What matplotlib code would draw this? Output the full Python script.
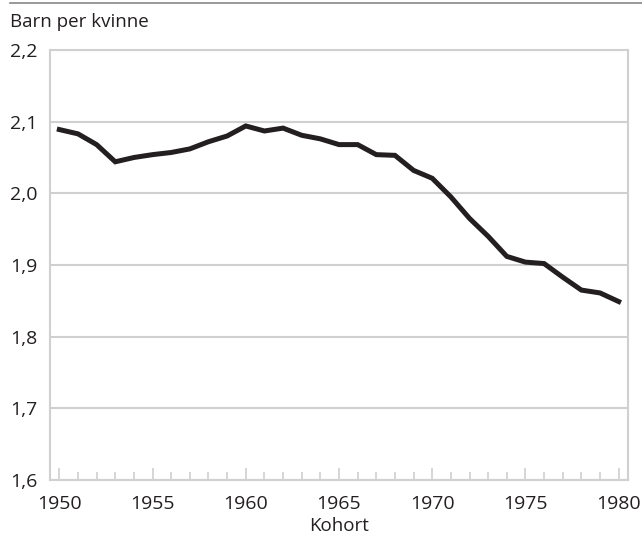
import numpy as np
import matplotlib.pyplot as plt
from matplotlib.ticker import MultipleLocator

# Samlet fruktbarhet per kohort (lest av figuren)
years = list(range(1950, 1981))
children = [2.089, 2.083, 2.068, 2.044, 2.050, 2.054, 2.057, 2.062, 2.072, 2.080,
            2.094, 2.087, 2.091, 2.081, 2.076, 2.068, 2.068, 2.054, 2.053, 2.032,
            2.021, 1.995, 1.965, 1.940, 1.912, 1.904, 1.902, 1.883, 1.865, 1.861,
            1.849]
yticks = [1.6, 1.7, 1.8, 1.9, 2.0, 2.1, 2.2]
ytick_labels = ["1,6", "1,7", "1,8", "1,9", "2,0", "2,1", "2,2"]
xticks = [1950, 1955, 1960, 1965, 1970, 1975, 1980]

plt.rcParams['font.family'] = ['Open Sans', 'DejaVu Sans']
grey = '#d0d0d0'

fig = plt.figure(figsize=(6.42, 5.36), dpi=100)
ax = fig.add_axes([50/642, 1-480/536, 578/642, 430/536])

ax.plot(years, children, color='#231f20', lw=3.6, solid_joinstyle='miter')

ax.set_xlim(1949.5, 1980.5)
ax.set_ylim(1.6, 2.2)
ax.set_yticks(yticks)
ax.set_yticklabels(ytick_labels)
ax.set_xticks(xticks)
ax.xaxis.set_minor_locator(MultipleLocator(1))
ax.grid(axis='y', color=grey, lw=1.5)
ax.set_axisbelow(True)
for s in ax.spines.values():
    s.set_color(grey)
    s.set_linewidth(1.5)

ax.tick_params(axis='y', length=0, pad=9, labelsize=14, labelcolor='#231f20')
ax.tick_params(axis='x', which='major', direction='in', length=9, width=1.2,
               color=grey, pad=11, labelsize=14, labelcolor='#231f20')
ax.tick_params(axis='x', which='minor', direction='in', length=6, width=1.2,
               color=grey)

ax.set_xlabel('Kohort', fontsize=13.5, color='#231f20', labelpad=3)
fig.text(10/642, 1-22/536, 'Barn per kvinne', fontsize=13.5, color='#231f20',
         va='center', ha='left')
fig.add_artist(plt.Line2D([10/642, 1], [1-3/536, 1-3/536], color='#888888',
                          lw=1.2, transform=fig.transFigure))

plt.savefig('out.png', dpi=100)
